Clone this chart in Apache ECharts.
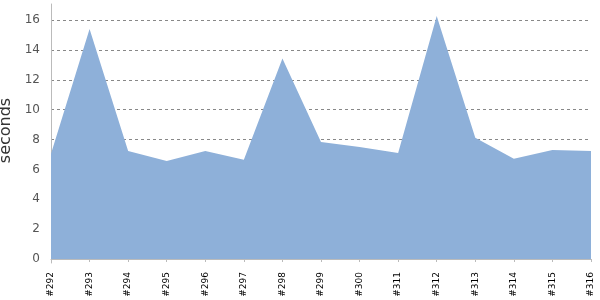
<!DOCTYPE html>
<html><head><meta charset="utf-8">
<script src="https://cdn.jsdelivr.net/npm/echarts@6/dist/echarts.min.js"></script>
<style>html,body{margin:0;padding:0;background:#fff}#c{width:600px;height:300px}</style>
</head><body><div id="c"></div>
<script>
const categories = ['#292','#293','#294','#295','#296','#297','#298','#299','#300','#311','#312','#313','#314','#315','#316'];
const durations = [7.05, 15.4, 7.23, 6.56, 7.23, 6.65, 13.43, 7.83, 7.5, 7.1, 16.26, 8.12, 6.71, 7.3, 7.23];
const yTicks = [0, 16, 2];

const chart = echarts.init(document.getElementById('c'), null, {renderer: 'canvas'});
chart.setOption({
  animation: false,
  grid: [
    {left: 51, right: 9, top: 20, bottom: 41, containLabel: false, outerBoundsMode: 'none'},
    {left: 51, right: 9, top: 4, bottom: 37, containLabel: false, outerBoundsMode: 'none'}
  ],
  xAxis: [{
    type: 'category', data: categories, boundaryGap: false, gridIndex: 0, offset: 4,
    axisLine: {show: true, lineStyle: {color: '#bbbbbb', width: 1}},
    axisTick: {show: true, alignWithLabel: true, length: 3, lineStyle: {color: '#bbbbbb'}},
    axisLabel: {rotate: 90, color: '#000', fontSize: 9, fontFamily: 'DejaVu Sans', margin: 9, interval: 0},
    splitLine: {show: false}
  }, {
    type: 'value', gridIndex: 1, show: false, min: 0, max: 1
  }],
  yAxis: [{
    type: 'value', gridIndex: 0, min: yTicks[0], max: yTicks[1], interval: yTicks[2], offset: 4,
    name: 'seconds', nameLocation: 'middle', nameRotate: 90, nameGap: 23,
    nameTextStyle: {fontSize: 16, color: '#333', fontFamily: 'DejaVu Sans', padding: [0, 0, 0, 18]},
    axisLine: {show: false}, axisTick: {show: false},
    axisLabel: {color: '#555', fontSize: 12, fontFamily: 'DejaVu Sans', margin: 7},
    splitLine: {show: true, lineStyle: {color: '#888', type: [3, 3], width: 1}}
  }, {
    type: 'value', gridIndex: 1, min: 0, max: 1, offset: 4,
    axisLine: {show: true, lineStyle: {color: '#bbbbbb', width: 1}},
    axisTick: {show: false}, axisLabel: {show: false}, splitLine: {show: false}
  }],
  series: [{
    type: 'line', data: durations, xAxisIndex: 0, yAxisIndex: 0,
    symbol: 'none', smooth: false, clip: false,
    lineStyle: {width: 0, opacity: 0},
    areaStyle: {color: '#8EB0D9', opacity: 1}
  }]
});
</script></body></html>
